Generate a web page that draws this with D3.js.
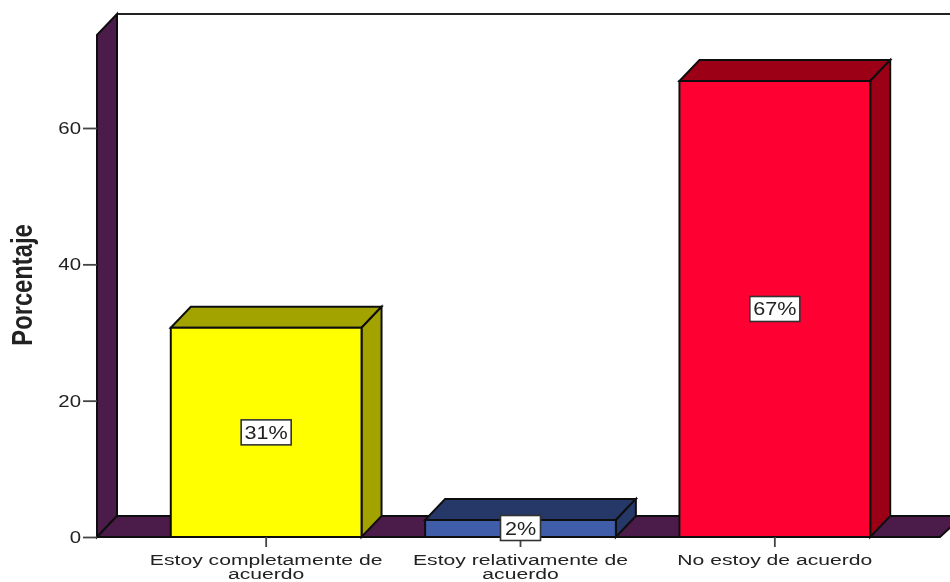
<!DOCTYPE html>
<html><head><meta charset="utf-8">
<script src="https://cdn.jsdelivr.net/npm/d3@7"></script>
<style>html,body{margin:0;padding:0;background:#fff}svg{display:block}text{font-family:"Liberation Sans",Arial,sans-serif;fill:#222}</style>
</head><body><svg id="c" width="950" height="582"></svg>
<script>
const categories = [["Estoy completamente de","acuerdo"],["Estoy relativamente de","acuerdo"],["No estoy de acuerdo"]];
const values = [30.7, 2.5, 66.9];
const valueLabels = ["31%","2%","67%"];
const frontColors = ["#ffff00","#3f5daa","#ff0030"];
const topColors = ["#a3a300","#263768","#9c0018"];
const yTicks = [0,20,40,60];
const wallColor = "#4c1a48";
const yLabel = "Porcentaje";

const W=950,H=582, dx=20, dy=-21;
const y=d3.scaleLinear().domain([0,60]).range([537,128]);
const yTopValue=y.invert(35);
const x=d3.scaleBand().domain(d3.range(categories.length)).range([139,902]).paddingInner(.25).paddingOuter(.125);
const svg=d3.select("#c");
const defs=svg.append("defs");
defs.append("filter").attr("id","soft").attr("filterUnits","userSpaceOnUse").attr("x",0).attr("y",0).attr("width",W).attr("height",H)
  .append("feGaussianBlur").attr("stdDeviation",0.45);
const root=svg.append("g").attr("filter","url(#soft)");
root.append("rect").attr("width",W).attr("height",H).attr("fill","#fff");
const poly=(g,pts,fill)=>g.append("polygon").attr("points",pts.map(p=>p.join(",")).join(" ")).attr("fill",fill).attr("stroke","#111").attr("stroke-width",2).attr("stroke-linejoin","miter");
const label=(g,t,px,py,size,sx)=>g.append("text").attr("transform",`translate(${px},${py}) scale(${sx},1)`).attr("text-anchor","middle").attr("font-size",size).text(t);

const xL=97,xR=930;
root.append("line").attr("x1",xL+dx).attr("x2",W).attr("y1",y(yTopValue)+dy).attr("y2",y(yTopValue)+dy).attr("stroke","#222").attr("stroke-width",2);
poly(root,[[xL,y(0)],[xL+dx,y(0)+dy],[xL+dx,y(yTopValue)+dy],[xL,y(yTopValue)]],wallColor);
poly(root,[[xL,y(0)],[xL+dx,y(0)+dy],[W+5,y(0)+dy],[W+5,y(0)+dy+7],[xR+10,y(0)]],wallColor);

const ax=root.append("g").attr("transform",`translate(${xL},0)`).call(d3.axisLeft(y).tickValues(yTicks).tickSize(14).tickSizeOuter(0).tickPadding(3));
ax.select(".domain").remove();
ax.selectAll(".tick line").attr("stroke","#444").attr("stroke-width",1.8);
ax.selectAll(".tick text").attr("font-size",17).attr("font-family","Liberation Sans").attr("text-anchor","end").attr("transform","translate(-16,0) scale(1.2,1)").attr("x",0);

const bars=root.selectAll("g.bar").data(values).join("g").attr("class","bar");
bars.each(function(v,i){
  const g=d3.select(this),x0=x(i),x1=x0+x.bandwidth(),yt=y(v),yb=y(0);
  poly(g,[[x0,yt],[x0+dx,yt+dy],[x1+dx,yt+dy],[x1,yt]],topColors[i]);
  poly(g,[[x1,yt],[x1+dx,yt+dy],[x1+dx,yb+dy],[x1,yb]],topColors[i]);
  poly(g,[[x0,yt],[x1,yt],[x1,yb],[x0,yb]],frontColors[i]);
});

categories.forEach((c,i)=>{
  const cx=x(i)+x.bandwidth()/2;
  root.append("line").attr("x1",cx).attr("x2",cx).attr("y1",y(0)).attr("y2",y(0)+10).attr("stroke","#444").attr("stroke-width",1.8);
  c.forEach((t,j)=>label(root,t,cx,564.5+j*14,15.5,1.365));
});

values.forEach((v,i)=>{
  const cx=x(i)+x.bandwidth()/2, cy=i===1?528:(y(v)+y(0))/2, w=i===1?40:50,h=25;
  root.append("rect").attr("x",cx-w/2).attr("y",cy-h/2).attr("width",w).attr("height",h).attr("fill","#fff").attr("stroke","#333").attr("stroke-width",1.6);
  label(root,valueLabels[i],cx,cy+6.5,18,1.2);
});

root.append("text").attr("transform","translate(32,285) rotate(-90) scale(.95,1.15)").attr("text-anchor","middle").attr("font-size",25).attr("font-weight","bold").text(yLabel);
</script></body></html>
